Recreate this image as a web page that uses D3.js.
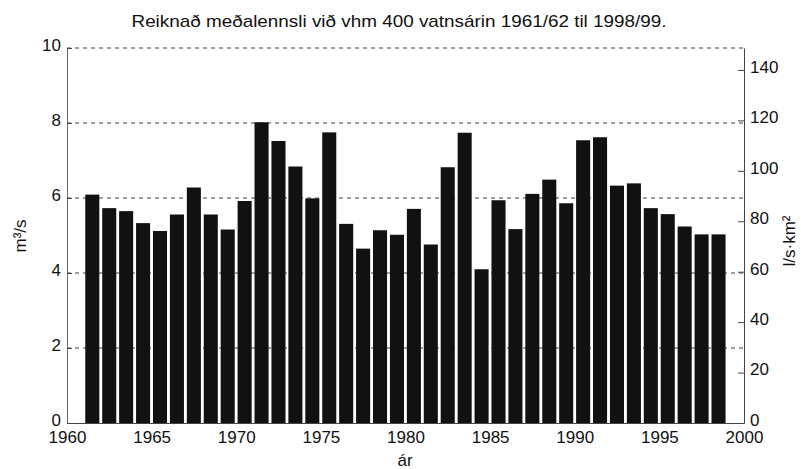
<!DOCTYPE html>
<html>
<head>
<meta charset="utf-8">
<script src="https://cdn.jsdelivr.net/npm/d3@7"></script>
<style>
  body { margin: 0; background: #fff; }
  svg { display: block; font-family: "Liberation Sans", Arial, sans-serif; }
</style>
</head>
<body>
<svg id="chart" width="801" height="469"></svg>
<script>
// water years 1961/62 .. 1998/99, bar sits on the first year
const years = d3.range(1961, 1999);
const flow = [6.09, 5.73, 5.65, 5.33, 5.12, 5.56, 6.28, 5.56, 5.16, 5.92,
              8.02, 7.52, 6.84, 5.99, 7.75, 5.31, 4.65, 5.14, 5.02, 5.71,
              4.76, 6.82, 7.74, 4.10, 5.94, 5.17, 6.11, 6.49, 5.86, 7.54,
              7.62, 6.33, 6.39, 5.73, 5.57, 5.24, 5.03, 5.03];
const leftTicks = [0, 2, 4, 6, 8, 10];
const rightTicks = [0, 20, 40, 60, 80, 100, 120, 140];
const xTicks = [1960, 1965, 1970, 1975, 1980, 1985, 1990, 1995, 2000];

const svg = d3.select("#chart");
const margin = { top: 48, right: 57, bottom: 46, left: 67 };
const width = 801 - margin.left - margin.right;
const height = 469 - margin.top - margin.bottom;

const x = d3.scaleLinear().domain([1960, 2000]).range([0, width]);
const y = d3.scaleLinear().domain([0, 10]).range([height, 0]);
const y2 = d3.scaleLinear().domain([0, 148.7]).range([height, 0]);

const g = svg.append("g")
  .attr("transform", `translate(${margin.left},${margin.top})`);

// dashed grid
g.append("g")
  .selectAll("line")
  .data(leftTicks.filter(d => d > 0))
  .join("line")
  .attr("x1", 0)
  .attr("x2", width)
  .attr("y1", d => y(d))
  .attr("y2", d => y(d))
  .attr("stroke", "#444")
  .attr("stroke-width", 1)
  .attr("stroke-dasharray", "4,4");

// bars
const step = x(1961) - x(1960);
g.append("g")
  .selectAll("rect")
  .data(years.map((yr, i) => ({ yr, v: flow[i] })))
  .join("rect")
  .attr("x", d => x(d.yr) + step * 0.08)
  .attr("width", step * 0.83)
  .attr("y", d => y(d.v))
  .attr("height", d => height - y(d.v))
  .attr("fill", "#111");

// axes
const tickFont = "17px";

const xAxis = g.append("g")
  .attr("transform", `translate(0,${height})`)
  .call(d3.axisBottom(x).tickValues(xTicks).tickFormat(d3.format("d")).tickSize(0).tickPadding(8));
xAxis.select(".domain").attr("stroke", "#444");

const yAxis = g.append("g")
  .call(d3.axisLeft(y).tickValues(leftTicks).tickSizeInner(-5).tickSizeOuter(0).tickPadding(6));
yAxis.select(".domain").attr("stroke", "#666");

const yAxis2 = g.append("g")
  .attr("transform", `translate(${width},0)`)
  .call(d3.axisRight(y2).tickValues(rightTicks).tickSizeInner(-6).tickSizeOuter(0).tickPadding(6));
yAxis2.select(".domain").attr("stroke", "#444");

svg.selectAll(".tick text")
  .attr("font-size", tickFont)
  .attr("font-family", "Liberation Sans, Arial, sans-serif")
  .attr("fill", "#111");
// vertical axis labels sit a little above their ticks
yAxis.selectAll(".tick text").attr("dy", "0.14em");
yAxis2.selectAll(".tick text").attr("dy", "0.14em");
svg.selectAll(".tick line").attr("stroke", "#444");

// titles
svg.append("text")
  .attr("x", 399)
  .attr("y", 27)
  .attr("text-anchor", "middle")
  .attr("font-size", "17px")
  .attr("textLength", 535)
  .attr("lengthAdjust", "spacingAndGlyphs")
  .attr("fill", "#111")
  .text("Reiknað meðalennsli við vhm 400 vatnsárin 1961/62 til 1998/99.");

svg.append("text")
  .attr("x", 405)
  .attr("y", 466)
  .attr("text-anchor", "middle")
  .attr("font-size", "17px")
  .attr("fill", "#111")
  .text("ár");

svg.append("text")
  .attr("transform", "translate(26,236) rotate(-90)")
  .attr("text-anchor", "middle")
  .attr("font-size", "17px")
  .attr("fill", "#111")
  .text("m³/s");

svg.append("text")
  .attr("transform", "translate(795,241) rotate(-90)")
  .attr("text-anchor", "middle")
  .attr("font-size", "17px")
  .attr("fill", "#111")
  .text("l/s·km²");
</script>
</body>
</html>
